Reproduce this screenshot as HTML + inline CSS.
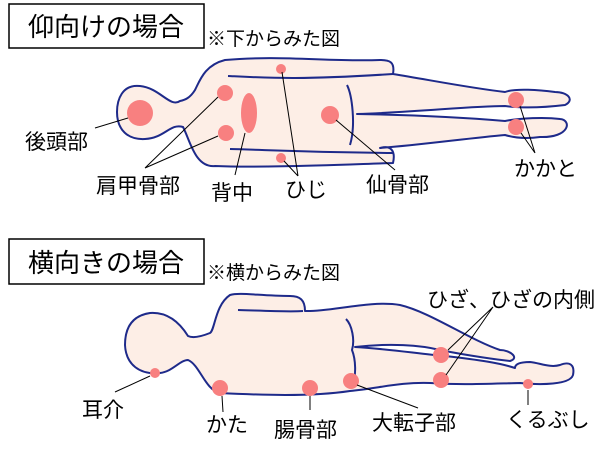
<!DOCTYPE html>
<html><head><meta charset="utf-8"><style>
html,body{margin:0;padding:0;background:#fff;}
svg{display:block;}
text{font-family:"Liberation Sans","Noto Sans CJK JP",sans-serif;fill:#000;}
</style></head><body>
<svg width="600" height="462" viewBox="0 0 600 462" xmlns="http://www.w3.org/2000/svg">
<rect x="9" y="4" width="195" height="44" fill="#fff" stroke="#000" stroke-width="1.5"/>
<text x="106" y="36" font-size="26" text-anchor="middle">仰向けの場合</text>
<text x="207" y="45" font-size="19">※下からみた図</text>
<rect x="9" y="239" width="195" height="45" fill="#fff" stroke="#000" stroke-width="1.5"/>
<text x="106" y="272" font-size="26" text-anchor="middle">横向きの場合</text>
<text x="207" y="279" font-size="19">※横からみた図</text>

<g fill="#fdeee6" stroke="#1e2a8a" stroke-width="2" stroke-linejoin="round">
<path d="M180,101 C170,108 160,88 140,86 C122,84 117,100 117,112 C117,130 128,140 145,139 C165,138 170,123 183,127 C190,140 195,168 215,166 C260,168 330,165 393,163 C396,150 390,145 380,148 C420,145 470,138 505,135 C515,138 525,139 540,137 C570,138 572,120 560,119 C545,117 520,118 505,121 C470,118 420,115 357,114 C420,112 470,106 505,106 C520,108 540,108 565,105 C575,100 568,92 555,92 C540,90 515,88 505,92 C470,88 430,80 393,74 C395,62 390,60 380,60 C330,62 280,55 225,60 C205,65 200,80 195,90 C190,98 185,100 180,101 Z"/>
<path d="M188,336 C178,320 165,312 150,313 C130,316 125,330 125,345 C126,365 140,375 160,373 C172,372 180,360 188,360 C200,365 205,390 220,393 C260,395 310,397 350,391 C380,388 400,382 430,383 C460,385 480,384 520,383 C540,385 570,385 573,375 C575,365 570,361 560,365 C550,368 540,363 530,362 C520,362 515,364 515,368 C500,363 480,360 445,356 C420,354 390,349 355,347 C390,343 420,345 440,350 C470,356 500,360 510,361 C520,358 510,350 500,350 C470,340 430,312 400,305 C370,300 330,312 305,311 C305,300 300,296 290,296 C260,296 240,292 230,295 C215,305 215,330 210,333 C200,337 192,338 188,336 Z"/>
</g>
<g fill="none" stroke="#1e2a8a" stroke-width="2">
<path d="M228,76 C270,78 300,80 393,74"/>
<path d="M230,149 C270,150 300,152 393,153"/>
<path d="M347,85 C352,95 356,125 350,145"/>
<path d="M238,310 C270,311 290,312 303,311"/>
<path d="M346,319 C352,325 355,340 352,350 C356,360 356,375 353,385"/>
</g>

<g fill="#f88080">
<circle cx="140" cy="113" r="13"/>
<circle cx="225" cy="93" r="8"/>
<circle cx="226" cy="133" r="8"/>
<ellipse cx="249" cy="113" rx="8" ry="20"/>
<circle cx="281" cy="69" r="5"/>
<circle cx="281" cy="158" r="5"/>
<circle cx="330" cy="115" r="9"/>
<circle cx="516" cy="100" r="8"/>
<circle cx="516" cy="127" r="8"/>
<circle cx="155" cy="373" r="5"/>
<circle cx="220" cy="388" r="8"/>
<circle cx="310" cy="388" r="8"/>
<circle cx="351" cy="381" r="8"/>
<circle cx="441" cy="355" r="8"/>
<circle cx="441" cy="380" r="8"/>
<circle cx="528" cy="384" r="5"/>
</g>

<g stroke="#000" stroke-width="1" fill="none">
<path d="M95,128 L128,118"/>
<path d="M145,168 L218,97 M145,168 L218,136"/>
<path d="M235,175 L245,133"/>
<path d="M282,72 L298,176 M284,161 L298,176"/>
<path d="M336,120 L395,170"/>
<path d="M520,106 L535,153 M521,133 L535,153"/>
<path d="M115,392 L150,376"/>
<path d="M222,396 L223,412"/>
<path d="M310,396 L310,410"/>
<path d="M357,385 L418,408"/>
<path d="M448,350 L493,307 M446,375 L493,307"/>
<path d="M528,390 L528,405"/>
</g>

<g font-size="21">
<text x="25" y="149">後頭部</text>
<text x="96" y="193">肩甲骨部</text>
<text x="211" y="200">背中</text>
<text x="285" y="197">ひじ</text>
<text x="366" y="192">仙骨部</text>
<text x="514" y="176">かかと</text>
<text x="427" y="307">ひざ、ひざの内側</text>
<text x="82" y="417">耳介</text>
<text x="206" y="432">かた</text>
<text x="274" y="437">腸骨部</text>
<text x="372" y="430">大転子部</text>
<text x="506" y="427">くるぶし</text>
</g>
</svg>
</body></html>
